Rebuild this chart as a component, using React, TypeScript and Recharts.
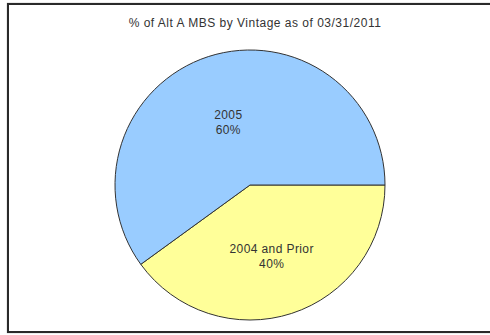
import React from "react";
import { PieChart, Pie, Cell } from "recharts";

const categories = ["2004 and Prior", "2005"];
const shares = [40, 60];
const colors = ["#FFFF99", "#99CCFF"];
const title = "% of Alt A MBS by Vintage as of 03/31/2011";

const data = categories.map((name, i) => ({ name, value: shares[i] }));

const RADIAN = Math.PI / 180;

const renderLabel = (props: any) => {
  const { cx, cy, midAngle, outerRadius, name, value } = props;
  const r = outerRadius * 0.52;
  const x = cx + r * Math.cos(-midAngle * RADIAN);
  const y = cy + r * Math.sin(-midAngle * RADIAN);
  return (
    <text
      x={x}
      y={y}
      textAnchor="middle"
      fill="#333"
      fontSize={12}
      letterSpacing={0.4}
      fontFamily="'Liberation Sans', Arial, sans-serif"
    >
      <tspan x={x} dy={1}>{name}</tspan>
      <tspan x={x} dy={15}>{`${value}%`}</tspan>
    </text>
  );
};

export default function App() {
  return (
    <div style={{ position: "fixed", left: 0, top: 0, width: 490, height: 335, background: "#fff", overflow: "hidden" }}>
      <div
        style={{
          position: "absolute",
          left: 7,
          top: 3,
          width: 500,
          height: 326,
          border: "2px solid #2a2a2a",
          boxShadow: "0 0 1px #888",
        }}
      />
      <div
        style={{
          position: "absolute",
          left: 0,
          top: 16,
          width: 510,
          textAlign: "center",
          fontFamily: "'Liberation Sans', Arial, sans-serif",
          fontSize: 12,
          letterSpacing: 0.5,
          color: "#333",
        }}
      >
        {title}
      </div>
      <div style={{ position: "absolute", left: 0, top: 0 }}>
        <PieChart width={490} height={335} margin={{ top: 0, right: 0, bottom: 0, left: 0 }}>
          <Pie
            data={data}
            dataKey="value"
            nameKey="name"
            cx={250}
            cy={185}
            outerRadius={135}
            startAngle={0}
            endAngle={-360}
            stroke="#333"
            strokeWidth={1}
            label={renderLabel}
            labelLine={false}
            isAnimationActive={false}
          >
            {data.map((d, i) => (
              <Cell key={d.name} fill={colors[i]} />
            ))}
          </Pie>
        </PieChart>
      </div>
    </div>
  );
}
